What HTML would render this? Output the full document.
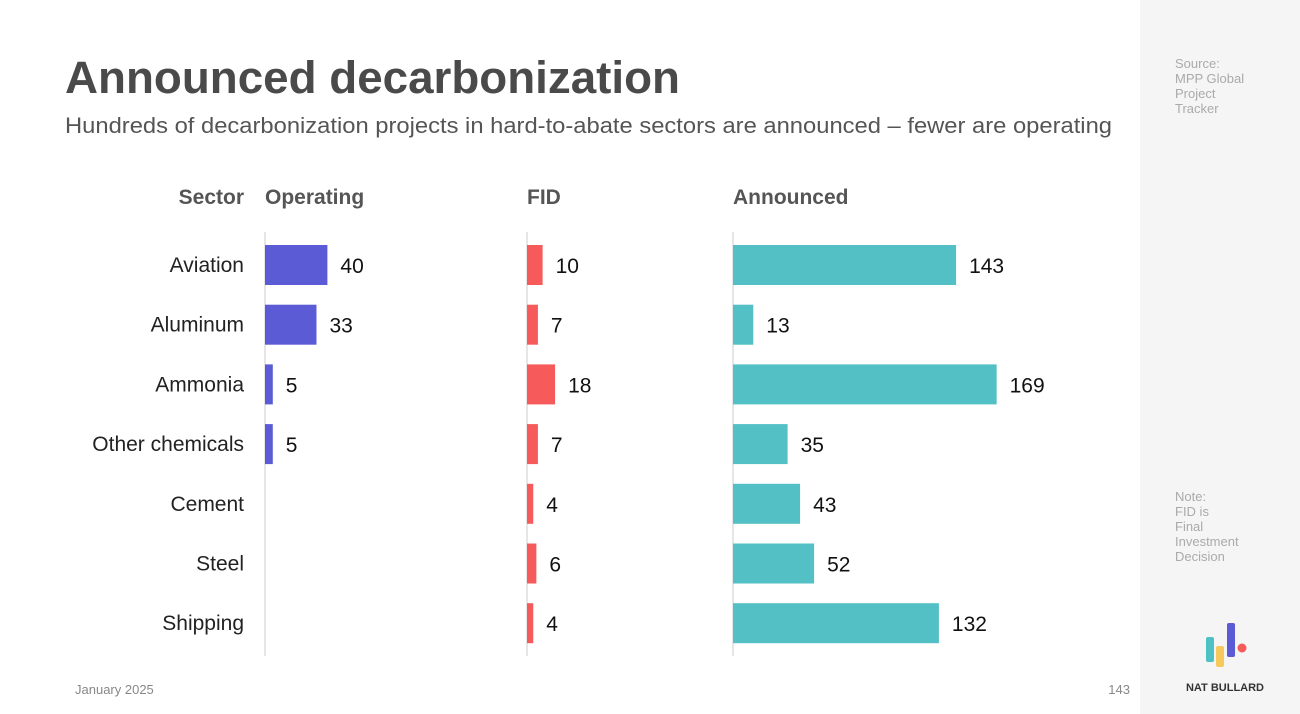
<!DOCTYPE html>
<html><head><meta charset="utf-8"><style>
html,body{margin:0;padding:0;background:#fff;}
svg{display:block;font-family:"Liberation Sans",sans-serif;}
</style></head><body>
<svg id="chart" width="1300" height="714" viewBox="0 0 1300 714">
<rect x="0" y="0" width="1140" height="714" fill="#ffffff"/>
<rect x="1140" y="0" width="160" height="714" fill="#f5f5f5"/>
<text x="65" y="93" font-size="45" font-weight="bold" fill="#4a4a4a" textLength="615" lengthAdjust="spacingAndGlyphs">Announced decarbonization</text>
<text x="65" y="133" font-size="22" fill="#555" textLength="1047" lengthAdjust="spacingAndGlyphs">Hundreds of decarbonization projects in hard-to-abate sectors are announced – fewer are operating</text>
<g font-size="13" fill="#aaa">
<text x="1175" y="68">Source:</text><text x="1175" y="83">MPP Global</text><text x="1175" y="98">Project</text><text x="1175" y="113">Tracker</text>
</g>
<g font-size="13" fill="#aaa">
<text x="1175" y="501">Note:</text><text x="1175" y="516">FID is</text><text x="1175" y="531">Final</text><text x="1175" y="546">Investment</text><text x="1175" y="561">Decision</text>
</g>
<g>
<rect x="1206" y="637" width="8" height="25" rx="2" fill="#4fc0c3"/>
<rect x="1216" y="646" width="8" height="21" rx="2" fill="#f7c95c"/>
<rect x="1227" y="623" width="8" height="34" rx="2" fill="#5b5bd6"/>
<circle cx="1242" cy="648" r="4.5" fill="#f45b5b"/>
<text x="1225" y="691" font-size="11" font-weight="bold" fill="#333" text-anchor="middle">NAT BULLARD</text>
</g>
<text x="75" y="694" font-size="13" fill="#888">January 2025</text>
<text x="1130" y="694" font-size="13" fill="#888" text-anchor="end">143</text>
<g font-size="21" font-weight="bold" fill="#555">
<text x="244" y="204" text-anchor="end">Sector</text>
<text x="265" y="204">Operating</text>
<text x="527" y="204">FID</text>
<text x="733" y="204">Announced</text>
</g>
<g id="plot"></g>
</svg>
<script>
const sectors = ["Aviation","Aluminum","Ammonia","Other chemicals","Cement","Steel","Shipping"];
const operating = [40,33,5,5,0,0,0];
const fid = [10,7,18,7,4,6,4];
const announced = [143,13,169,35,43,52,132];
const NS = "http://www.w3.org/2000/svg";
const plot = document.getElementById("plot");
const pxPerUnit = 1.56;
const rowY = i => 265 + i * 59.7;
const xLen = v => v * pxPerUnit;
function mk(tag, attrs){const e=document.createElementNS(NS,tag);for(const k in attrs)e.setAttribute(k,attrs[k]);plot.appendChild(e);return e;}
sectors.forEach((s,i)=>{
  const t = mk("text",{x:244,y:rowY(i)+7,"font-size":21,fill:"#222","text-anchor":"end"});
  t.textContent = s;
  
  
});
const cols = [{x0:265,vals:operating,color:"#5b5bd6",name:"operating"},{x0:527,vals:fid,color:"#f75a5a",name:"fid"},{x0:733,vals:announced,color:"#52c0c4",name:"announced"}];
cols.forEach(c=>{
  const ax = mk("line",{x1:c.x0,x2:c.x0,y1:232,y2:656,stroke:"#e6e6e6","stroke-width":2});
  
  
  c.vals.forEach((v,i)=>{
    if(v<=0) return;
    const w = xLen(v);
    const r = mk("rect",{x:c.x0,y:rowY(i)-20,width:w,height:40,fill:c.color});
    
    
    const t = mk("text",{x:c.x0+w+13,y:rowY(i)+8,"font-size":21,fill:"#111"});
    t.textContent = v;
    
    
  });
});
</script>
</body></html>
